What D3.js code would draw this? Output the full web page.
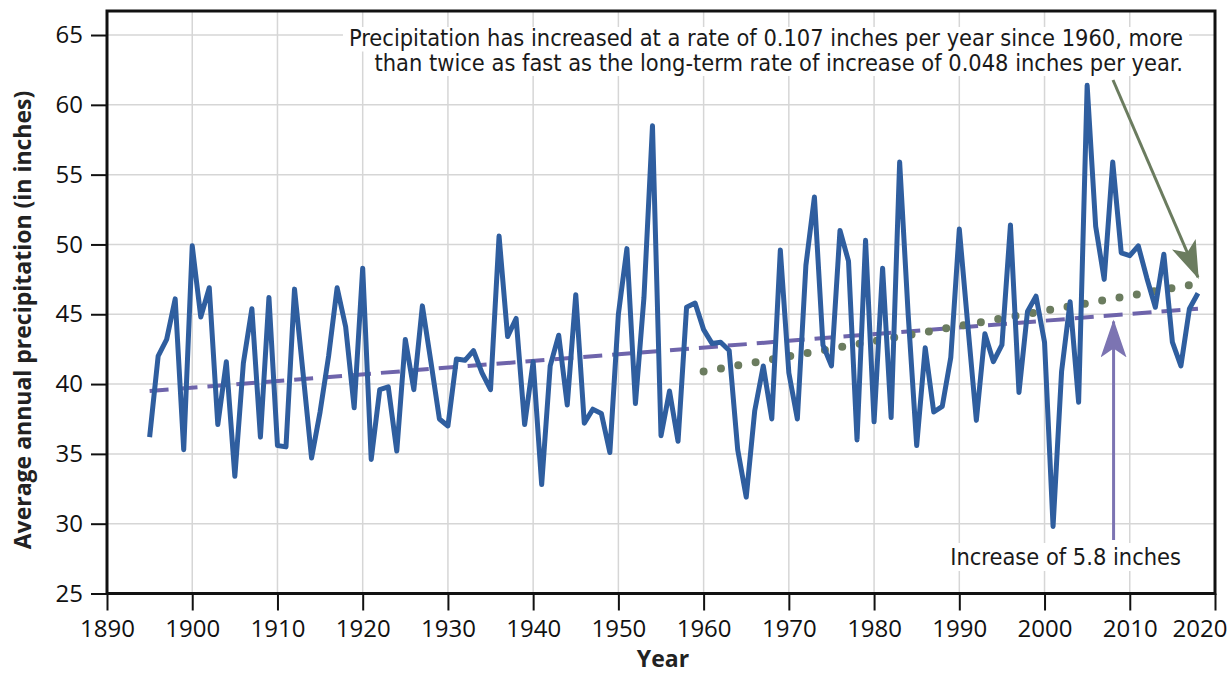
<!DOCTYPE html>
<html>
<head>
<meta charset="utf-8">
<script src="https://cdn.jsdelivr.net/npm/d3@7"></script>
<style>
  body { margin: 0; background: #fff; }
  svg { display: block; }
</style>
</head>
<body>
<svg id="chart"></svg>
<script>
"use strict";

// Annual precipitation (inches), 1895 - 2018
const years = d3.range(1895, 2019);
const precip = [
  36.2, 42.0, 43.2, 46.1, 35.3, 49.9, 44.8, 46.9, 37.1, 41.6,   // 1895-1904
  33.4, 41.5, 45.4, 36.2, 46.2, 35.6, 35.5, 46.8, 40.8, 34.7,   // 1905-1914
  38.0, 42.0, 46.9, 44.1, 38.3, 48.3, 34.6, 39.6, 39.8, 35.2,   // 1915-1924
  43.2, 39.6, 45.6, 41.6, 37.5, 37.0, 41.8, 41.7, 42.4, 40.8,   // 1925-1934
  39.6, 50.6, 43.4, 44.7, 37.1, 41.6, 32.8, 41.3, 43.5, 38.5,   // 1935-1944
  46.4, 37.2, 38.2, 37.9, 35.1, 45.0, 49.7, 38.6, 46.2, 58.5,   // 1945-1954
  36.3, 39.5, 35.9, 45.5, 45.8, 43.9, 42.9, 43.0, 42.4, 35.3,   // 1955-1964
  31.9, 38.1, 41.3, 37.5, 49.6, 40.8, 37.5, 48.5, 53.4, 42.8,   // 1965-1974
  41.3, 51.0, 48.8, 36.0, 50.3, 37.3, 48.3, 37.6, 55.9, 45.0,   // 1975-1984
  35.6, 42.6, 38.0, 38.4, 41.9, 51.1, 44.2, 37.4, 43.6, 41.6,   // 1985-1994
  42.8, 51.4, 39.4, 45.2, 46.3, 43.0, 29.8, 40.9, 45.9, 38.7,   // 1995-2004
  61.4, 51.3, 47.5, 55.9, 49.4, 49.2, 49.9, 47.6, 45.5, 49.3,   // 2005-2014
  43.0, 41.3, 45.4, 46.5                                        // 2015-2018
];

// trend lines: [year, value]
const longTrend = [[1895, 39.5], [2018, 45.4]];
const recentTrend = [[1960, 40.9], [2018, 47.2]];

const xTicks = d3.range(1890, 2021, 10);
const yTicks = d3.range(25, 66, 5);

const noteLines = [
  "Precipitation has increased at a rate of 0.107 inches per year since 1960, more",
  "than twice as fast as the long-term rate of increase of 0.048 inches per year."
];
const increaseLabel = "Increase of 5.8 inches";

const width = 1231;
const height = 675;
const marginLeft = 107;
const marginRight = 16;
const marginTop = 11;
const axisY = 593.5;

const svg = d3.select("#chart")
  .attr("width", width)
  .attr("height", height)
  .attr("font-family", "'Open Sans', sans-serif");

const x = d3.scaleLinear()
  .domain([1890, 2020])
  .range([marginLeft, width - marginRight]);

const y = d3.scaleLinear()
  .domain([25, 66.72])
  .range([axisY, marginTop]);

// grid
svg.append("g")
  .attr("stroke", "#d6d6d6")
  .attr("stroke-width", 1.5)
  .call(g => g.selectAll("line.v")
    .data(xTicks.slice(1, -1))
    .join("line")
    .attr("class", "v")
    .attr("x1", d => x(d)).attr("x2", d => x(d))
    .attr("y1", y.range()[0]).attr("y2", y.range()[1]))
  .call(g => g.selectAll("line.h")
    .data(yTicks.slice(1))
    .join("line")
    .attr("class", "h")
    .attr("x1", x.range()[0]).attr("x2", x.range()[1])
    .attr("y1", d => y(d)).attr("y2", d => y(d)));

// annotation text (one text, two lines) with white backing
const note = svg.append("g");
const noteText = note.append("text")
  .attr("font-family", "'Liberation Sans Narrow', 'DejaVu Sans Condensed', sans-serif")
  .attr("font-size", 23.4)
  .attr("text-anchor", "end")
  .attr("fill", "#1a1a1a");

noteText.selectAll("tspan")
  .data(noteLines)
  .join("tspan")
  .attr("x", 1183)
  .attr("y", (d, i) => 46 + i * 24.5)
  .text(d => d);

noteText.selectAll("tspan").each(function(d, i) {
  const w = this.getComputedTextLength();
  note.insert("rect", "text")
    .attr("x", 1183 - w - 6).attr("y", 46 + i * 24.5 - 19)
    .attr("width", w + 12).attr("height", 24.5)
    .attr("fill", "#fff");
});

// trend lines
const line = d3.line().x(d => x(d[0])).y(d => y(d[1]));

svg.append("path")
  .attr("fill", "none")
  .attr("stroke", "#6e64ab")
  .attr("stroke-width", 4)
  .attr("stroke-dasharray", "19 10")
  .attr("d", line(longTrend));

svg.append("path")
  .attr("fill", "none")
  .attr("stroke", "#6b7c5f")
  .attr("stroke-width", 8)
  .attr("stroke-linecap", "round")
  .attr("stroke-dasharray", "0 17.6")
  .attr("d", line(recentTrend));

// data line
svg.append("path")
  .attr("fill", "none")
  .attr("stroke", "#2f5e9f")
  .attr("stroke-width", 5)
  .attr("stroke-linejoin", "round")
  .attr("d", d3.line().x((d, i) => x(years[i])).y(d => y(d))(precip));

// arrows
const defs = svg.append("defs");
function arrowHead(id, color) {
  defs.append("marker")
    .attr("id", id)
    .attr("viewBox", "0 0 38 26")
    .attr("refX", 36).attr("refY", 13)
    .attr("markerUnits", "userSpaceOnUse")
    .attr("markerWidth", 38).attr("markerHeight", 26)
    .attr("orient", "auto")
    .append("path")
    .attr("d", "M0,0 L38,13 L0,26 L9,13 Z")
    .attr("fill", color);
}
arrowHead("greenHead", "#6b7c5f");
arrowHead("purpleHead", "#7c74b2");

svg.append("line")
  .attr("x1", 1113).attr("y1", 80)
  .attr("x2", x(2018)).attr("y2", y(47.65))
  .attr("stroke", "#6b7c5f")
  .attr("stroke-width", 3)
  .attr("marker-end", "url(#greenHead)");

svg.append("line")
  .attr("x1", x(2008.1)).attr("y1", 540)
  .attr("x2", x(2008.1)).attr("y2", y(45.2) + 10)
  .attr("stroke", "#7c74b2")
  .attr("stroke-width", 3)
  .attr("marker-end", "url(#purpleHead)");

// increase label
const inc = svg.append("text")
  .attr("x", 1181)
  .attr("y", 565)
  .attr("text-anchor", "end")
  .attr("font-family", "'Liberation Sans Narrow', 'DejaVu Sans Condensed', sans-serif")
  .attr("font-size", 23.4)
  .attr("fill", "#1a1a1a")
  .text(increaseLabel);
const ib = inc.node().getBBox();
svg.insert("rect", () => inc.node())
  .attr("x", ib.x - 4).attr("y", ib.y)
  .attr("width", ib.width + 8).attr("height", ib.height)
  .attr("fill", "#fff");

// axes
svg.append("g")
  .attr("transform", `translate(0,${axisY})`)
  .call(d3.axisBottom(x).tickValues(xTicks).tickFormat(d3.format("d")).tickSize(17).tickPadding(9).tickSizeOuter(0))
  .call(g => g.select(".domain").remove())
  .call(g => g.selectAll(".tick line").attr("stroke", "#111").attr("stroke-width", 2))
  .call(g => g.selectAll(".tick text").attr("font-size", 24).attr("fill", "#111").attr("font-family", "'Open Sans', sans-serif"))
  // last label is pulled inside the page edge, as in the original
  .call(g => g.selectAll(".tick").filter(d => d === 2020).select("text")
    .attr("text-anchor", "end").attr("x", 12));

svg.append("g")
  .attr("transform", `translate(${marginLeft},0)`)
  .call(d3.axisLeft(y).tickValues(yTicks).tickSize(16).tickPadding(8).tickSizeOuter(0))
  .call(g => g.select(".domain").remove())
  .call(g => g.selectAll(".tick line").attr("stroke", "#111").attr("stroke-width", 2))
  .call(g => g.selectAll(".tick text").attr("font-size", 24).attr("fill", "#111").attr("font-family", "'Open Sans', sans-serif"));

// frame
svg.append("rect")
  .attr("x", x.range()[0]).attr("y", y.range()[1])
  .attr("width", x.range()[1] - x.range()[0])
  .attr("height", y.range()[0] - y.range()[1])
  .attr("fill", "none")
  .attr("stroke", "#111")
  .attr("stroke-width", 3);

// axis titles
svg.append("text")
  .attr("x", 663)
  .attr("y", 667)
  .attr("text-anchor", "middle")
  .attr("font-weight", "bold")
  .attr("font-size", 23)
  .attr("fill", "#222")
  .text("Year");

svg.append("text")
  .attr("transform", "translate(31,320) rotate(-90)")
  .attr("text-anchor", "middle")
  .attr("font-weight", "bold")
  .attr("font-size", 23)
  .attr("fill", "#222")
  .text("Average annual precipitation (in inches)");
</script>
</body>
</html>
